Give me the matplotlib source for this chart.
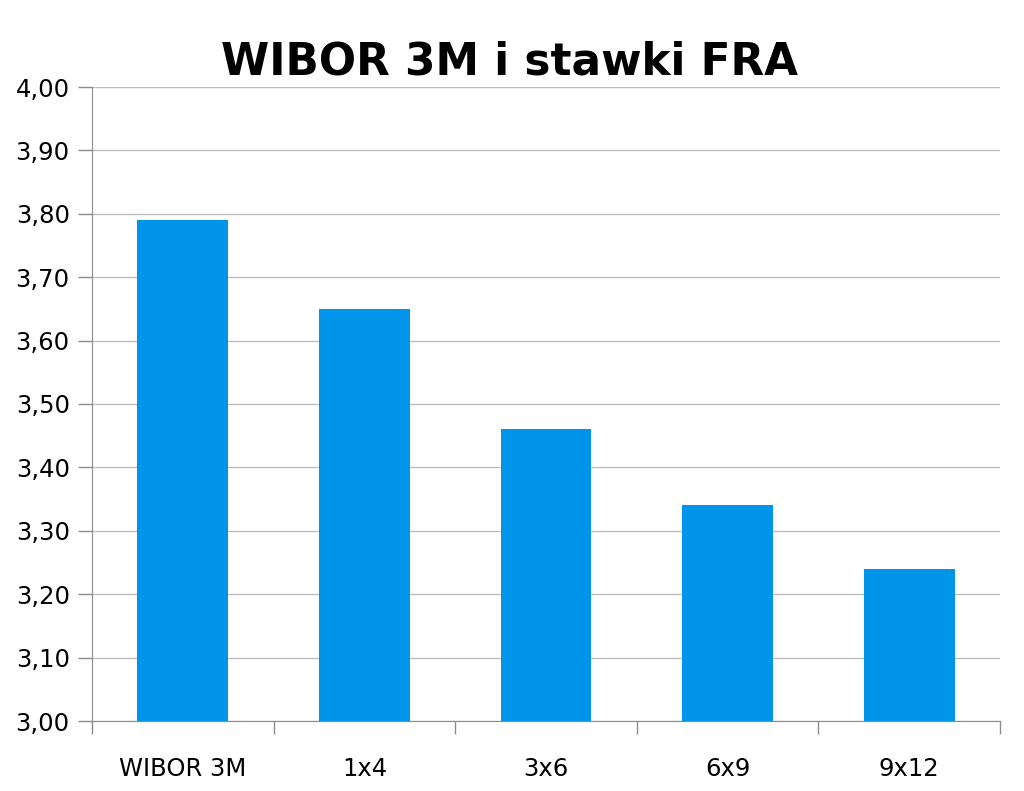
import numpy as np
import matplotlib.pyplot as plt

# Chart data
categories = ['WIBOR 3M', '1x4', '3x6', '6x9', '9x12']
rates = [3.79, 3.65, 3.46, 3.34, 3.24]
y_ticks = [3.00, 3.10, 3.20, 3.30, 3.40, 3.50, 3.60, 3.70, 3.80, 3.90, 4.00]

plt.rcParams['font.family'] = ['DejaVu Sans']

fig = plt.figure(figsize=(10.24, 7.91), dpi=100)
ax = fig.add_axes([92/1024, 1 - 721/791, (1000 - 92)/1024, (721 - 87)/791])

x = np.arange(len(categories))
ax.bar(x, rates, width=0.5, color='#0095EB', zorder=3)

ax.set_xlim(-0.5, len(categories) - 0.5)
ax.set_ylim(3.0, 4.0)
ax.set_yticks(y_ticks)
ax.set_yticklabels([f"{v:.2f}".replace('.', ',') for v in y_ticks], fontsize=17.5)
ax.yaxis.grid(True, color='#BEBEBE', linewidth=1, zorder=0)

ax.set_xticks(x)
ax.set_xticklabels(categories, fontsize=17.5)
ax.tick_params(axis='x', length=0, pad=26)
ax.set_xticks(np.arange(-0.5, len(categories)), minor=True)
ax.tick_params(axis='x', which='minor', length=9, color='#8C8C8C', width=1)
ax.tick_params(axis='y', length=10, color='#8C8C8C', width=1, pad=6)

for side in ['top', 'right']:
    ax.spines[side].set_visible(False)
for side in ['left', 'bottom']:
    ax.spines[side].set_color('#8C8C8C')

fig.text(0.498, 1 - 62/791, 'WIBOR 3M i stawki FRA', ha='center', va='center',
         fontsize=31.5, fontweight='bold')

fig.savefig('out.png', dpi=100)
